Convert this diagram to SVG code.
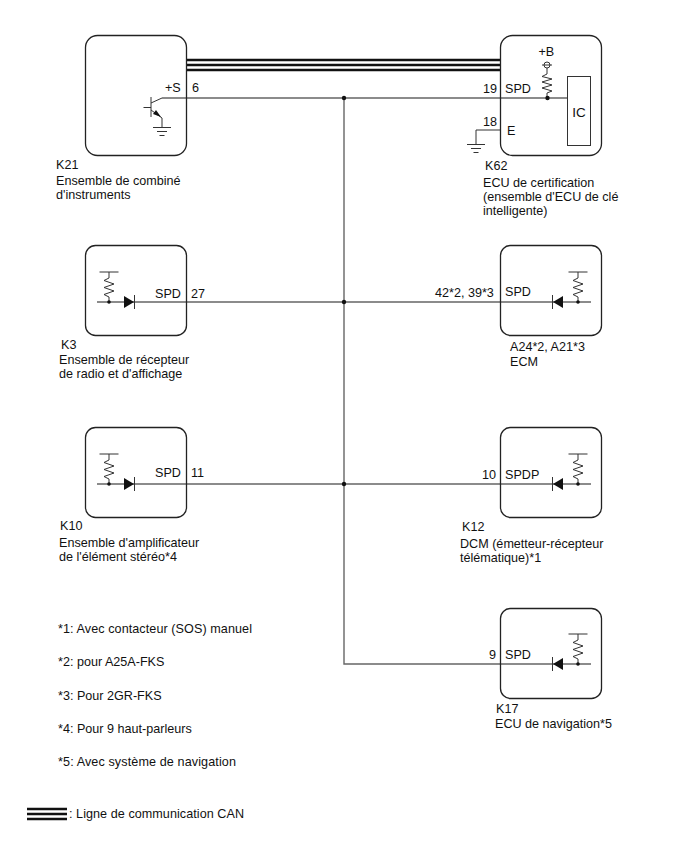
<svg xmlns="http://www.w3.org/2000/svg" xmlns:xlink="http://www.w3.org/1999/xlink" width="688" height="852" viewBox="0 0 688 852">
<style>
text{font-family:"Liberation Sans",Arial,sans-serif;font-size:12.6px;fill:#111}
.box{fill:none;stroke:#222;stroke-width:1.3}
.w{fill:none;stroke:#666;stroke-width:1.4}
.s{fill:none;stroke:#333;stroke-width:1}
.can{fill:none;stroke:#111;stroke-width:2.5}
.d{fill:#111}
</style>
<defs>
<g id="pull"><path class="s" d="M-9.500 -30H9.500M0 -30V-24L-5 -21.500L5 -18L-5 -14.500L5 -11L-5 -7.500L0 -5V0"/><circle class="d" cx="0" cy="0" r="1.800"/></g>
<g id="gnd"><path class="s" d="M-9 0H9M-5 4H5M-2.500 8H2.500"/></g>
</defs>
<rect width="688" height="852" fill="#fff"/>
<g id="connectors">
<path class="can" d="M187 60H501M187 65H501M187 70H501"/>
<path class="w" d="M162 98H567M344 98V664H591M97 302H591M97 484H591"/>
<circle class="d" cx="344" cy="98" r="2.200"/><circle class="d" cx="344" cy="302" r="2.200"/><circle class="d" cx="344" cy="484" r="2.200"/>
<path class="s" d="M501 130H476V144"/>
</g>
<g id="K21">
<rect class="box" x="85.500" y="35.500" width="101" height="120" rx="12"/>
<path class="s" d="M151 97V117M143.500 107.500H151M151 103L162 98M151 110L162 118V127"/><path class="d" d="M161 117L153 114L156 110Z"/>
<use xlink:href="#gnd" x="162" y="127.500"/>
<text x="165" y="92">+S</text><text x="192" y="92">6</text>
<text x="56" y="169">K21</text><text x="56" y="185">Ensemble de combiné</text><text x="56" y="199">d'instruments</text>
</g>
<g id="K62">
<rect class="box" x="500.500" y="35.500" width="101" height="120" rx="12"/>
<rect class="s" x="567.500" y="76.500" width="23" height="69" fill="#fff"/>
<text x="579" y="117" text-anchor="middle" style="font-size:13.500px">IC</text>
<circle class="s" cx="547" cy="65" r="3"/><path class="s" d="M542 65H552"/>
<path class="s" d="M547 68V74L542 76.500L552 79L542 82L552 85L542 88L552 91L547 93V98"/><circle class="d" cx="547.500" cy="98" r="2.200"/>
<text x="538.500" y="55.500">+B</text><text x="483" y="93">19</text><text x="505" y="93">SPD</text>
<text x="483" y="125.500">18</text><text x="507" y="135">E</text>
<use xlink:href="#gnd" x="476" y="144.500"/>
<text x="485" y="170">K62</text><text x="483" y="187">ECU de certification</text><text x="483" y="201">(ensemble d'ECU de clé</text><text x="483" y="215">intelligente)</text>
</g>
<g id="K3">
<rect class="box" x="85.500" y="245.500" width="101" height="90" rx="10"/>
<use xlink:href="#pull" x="109" y="302"/>
<path class="d" d="M124 296V308L134 302Z"/><path class="s" d="M134.500 295V309"/>
<text x="155" y="298">SPD</text><text x="191" y="298">27</text>
<text x="61" y="349">K3</text><text x="59" y="364">Ensemble de récepteur</text><text x="59" y="378">de radio et d'affichage</text>
</g>
<g id="A24">
<rect class="box" x="500.500" y="245.500" width="101" height="90" rx="10"/>
<use xlink:href="#pull" x="578" y="302"/>
<path class="d" d="M563 296V308L553 302Z"/><path class="s" d="M552.500 295V309"/>
<text x="435" y="297">42*2, 39*3</text><text x="505" y="296">SPD</text>
<text x="510" y="351">A24*2, A21*3</text><text x="510" y="366">ECM</text>
</g>
<g id="K10">
<rect class="box" x="85.500" y="427.500" width="101" height="90" rx="10"/>
<use xlink:href="#pull" x="109" y="484"/>
<path class="d" d="M124 478V490L134 484Z"/><path class="s" d="M134.500 477V491"/>
<text x="155" y="477">SPD</text><text x="191" y="477">11</text>
<text x="60" y="530">K10</text><text x="59" y="547">Ensemble d'amplificateur</text><text x="59" y="561">de l'élément stéréo*4</text>
</g>
<g id="K12">
<rect class="box" x="500.500" y="427.500" width="101" height="90" rx="10"/>
<use xlink:href="#pull" x="578" y="484"/>
<path class="d" d="M563 478V490L553 484Z"/><path class="s" d="M552.500 477V491"/>
<text x="482" y="479">10</text><text x="505" y="479">SPDP</text>
<text x="462" y="531">K12</text><text x="460" y="548">DCM (émetteur-récepteur</text><text x="460" y="562">télématique)*1</text>
</g>
<g id="K17">
<rect class="box" x="500.500" y="608.500" width="101" height="90" rx="10"/>
<use xlink:href="#pull" x="578" y="664"/>
<path class="d" d="M563 658V670L553 664Z"/><path class="s" d="M552.500 657V671"/>
<text x="489" y="659">9</text><text x="505" y="659">SPD</text>
<text x="496" y="713">K17</text><text x="495" y="728">ECU de navigation*5</text>
</g>
<g id="notes">
<text x="58" y="633" textLength="194">*1: Avec contacteur (SOS) manuel</text>
<text x="58" y="666">*2: pour A25A-FKS</text>
<text x="58" y="700">*3: Pour 2GR-FKS</text>
<text x="58" y="733">*4: Pour 9 haut-parleurs</text>
<text x="58" y="766" textLength="178">*5: Avec système de navigation</text>
<path class="can" d="M27 809H67M27 814H67M27 819H67"/>
<text x="69" y="818" textLength="175">: Ligne de communication CAN</text>
</g>
</svg>
